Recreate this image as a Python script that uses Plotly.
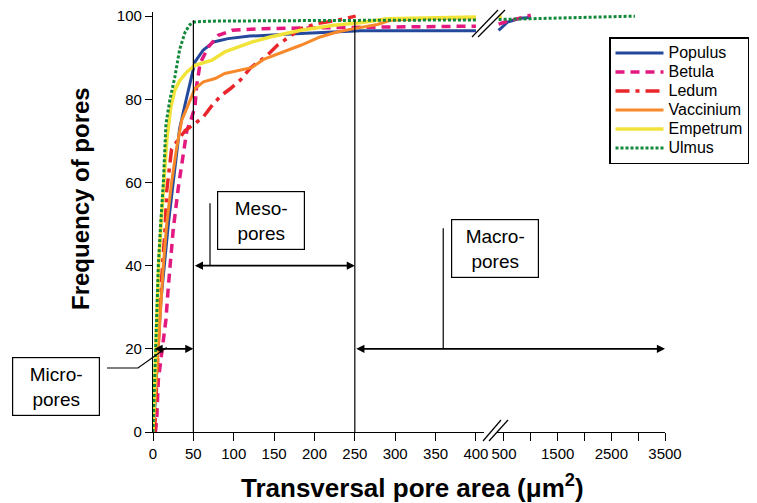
import plotly.graph_objects as go

# ---------------- data ----------------
populus_x = [0, 3, 6, 10, 14, 19, 25, 29, 33, 40, 48, 52, 62, 75, 93, 120, 183, 257, 400]
populus_y = [0, 8, 20, 32, 40, 50, 60, 67, 73, 79, 85.4, 89, 91.8, 93.8, 94.6, 95.2, 95.8, 96.5, 96.5]
populus_tail_x = [400, 570, 800, 1000]
populus_tail_y = [96.6, 98.6, 99.5, 99.7]

betula_x = [3, 4.6, 6.6, 12, 16, 19, 25, 31.5, 37.6, 42, 46, 52, 54, 58.4, 68.7, 81, 98, 135, 245, 400]
betula_y = [0, 3, 12.5, 20, 27, 35, 48.6, 59, 67.2, 72.6, 74.4, 78.2, 83.2, 88.7, 92.6, 95.4, 96.6, 97, 97.3, 97.6]
betula_tail_x = [400, 520, 930, 1000]
betula_tail_y = [98.1, 98.6, 100, 100.2]

ledum_x = [2, 4, 6, 8.5, 10.7, 13, 15, 17, 20, 23, 30, 40, 50, 62.5, 75, 85, 96, 108, 121, 141, 154, 165, 183, 203, 228, 251]
ledum_y = [0, 10, 20, 30, 37, 43, 49, 58, 64, 68, 70, 72.5, 73.9, 75.8, 79, 81, 82.6, 84.6, 87.6, 90.5, 93, 94.5, 97, 98.2, 99, 100]

vaccinium_x = [0, 2, 4, 6.6, 9.5, 12.8, 17, 23, 29, 35.6, 40, 46, 52, 62.5, 77, 89, 106, 122, 137, 160, 183, 207, 228, 249, 278, 294, 330, 400]
vaccinium_y = [0, 6, 14, 20, 30, 40, 50, 60, 68, 75, 77, 79.8, 82.6, 84.2, 85, 86.2, 87, 87.6, 89.6, 91.3, 93, 95, 96.2, 97, 98, 99, 99.4, 99.6]

empetrum_x = [0, 1.5, 3.2, 5.5, 7, 10, 13, 17, 22, 27, 33, 42, 52, 73, 89, 106, 123, 145, 183, 224, 257, 290, 330, 400]
empetrum_y = [0, 10, 20, 30, 40, 50, 60, 70, 78, 82.2, 84.5, 86.6, 88.2, 89.4, 91.4, 92.6, 93.8, 95, 96.6, 97.8, 98.4, 99.4, 99.6, 99.8]
empetrum_tail_x = [400, 460]
empetrum_tail_y = [99.9, 100]

ulmus_x = [0, 1.5, 3, 5, 6.6, 9.5, 12.8, 16, 21, 27, 33, 40, 46, 51, 70, 150, 250, 400]
ulmus_y = [0, 10, 20, 30, 40, 50, 60, 74, 80, 85.3, 92, 96.3, 98, 98.6, 98.8, 98.9, 99, 99.1]
ulmus_tail_x = [400, 1000, 2000, 2940]
ulmus_tail_y = [99.2, 99.4, 99.7, 100]

left_ticks = [0, 50, 100, 150, 200, 250, 300, 350, 400]
right_ticks = [500, 1000, 1500, 2000, 2500, 3000, 3500]
right_ticktext = ["500", "", "1500", "", "2500", "", "3500"]
y_ticks = [0, 20, 40, 60, 80, 100]

# ---------------- geometry ----------------
W, H = 757, 503
L, R, T, B = 153, 665, 12, 432
LEFT_END_PX = 484
RIGHT_START_PX = 497
X1_RANGE = [0, 410]
X2_RANGE = [370, 3500]
Y_RANGE = [0, 101]

d1 = (LEFT_END_PX - L) / (R - L)
d2 = (RIGHT_START_PX - L) / (R - L)


def px_x1(v):
    return L + (v - X1_RANGE[0]) / (X1_RANGE[1] - X1_RANGE[0]) * (LEFT_END_PX - L)


def x2_from_px(p):
    return X2_RANGE[0] + (p - RIGHT_START_PX) / (R - RIGHT_START_PX) * (X2_RANGE[1] - X2_RANGE[0])


def pxp(px):  # pixel -> paper x
    return (px - L) / (R - L)


def pyp(py):  # pixel -> paper y
    return (B - py) / (B - T)


FONT = "Liberation Sans, Arial, sans-serif"

series = [
    ("Populus", populus_x, populus_y, populus_tail_x, populus_tail_y, "#24489c", "solid", 3),
    ("Betula", betula_x, betula_y, betula_tail_x, betula_tail_y, "#e3197f", "9px,6px", 3.5),
    ("Ledum", ledum_x, ledum_y, None, None, "#e8262b", "14px,6px,4px,6px", 3.5),
    ("Vaccinium", vaccinium_x, vaccinium_y, None, None, "#f7892b", "solid", 3),
    ("Empetrum", empetrum_x, empetrum_y, empetrum_tail_x, empetrum_tail_y, "#f2e33a", "solid", 3.5),
    ("Ulmus", ulmus_x, ulmus_y, ulmus_tail_x, ulmus_tail_y, "#12893a", "3px,2px", 3),
]

fig = go.Figure()
for name, xs, ys, tx, ty, col, dash, w in series:
    fig.add_trace(go.Scatter(x=xs, y=ys, mode="lines",
                             name='<span style="font-size:16px">%s</span>' % name,
                             legendgroup=name,
                             line=dict(color=col, dash=dash, width=w), xaxis="x", yaxis="y"))
    if tx is not None:
        fig.add_trace(go.Scatter(x=tx, y=ty, mode="lines", name=name, legendgroup=name,
                                 showlegend=False,
                                 line=dict(color=col, dash=dash, width=w), xaxis="x2", yaxis="y"))

axis_common = dict(showline=True, linecolor="black", linewidth=1.2, ticks="outside",
                   ticklen=8, tickwidth=1.2, tickcolor="black", showgrid=False, zeroline=False,
                   tickfont=dict(family=FONT, size=15, color="black"))

fig.update_layout(
    width=W, height=H,
    margin=dict(l=L, r=W - R, t=T, b=H - B, pad=0, autoexpand=False),
    paper_bgcolor="white", plot_bgcolor="white",
    font=dict(family=FONT, color="black"),
    xaxis=dict(domain=[0, d1], range=X1_RANGE, tickvals=left_ticks, **axis_common),
    xaxis2=dict(domain=[d2, 1], range=X2_RANGE, tickvals=right_ticks, ticktext=right_ticktext,
                anchor="y", **axis_common),
    yaxis=dict(range=Y_RANGE, tickvals=y_ticks, **{**axis_common, "ticklen": 7}),
    legend=dict(x=609 / W, y=1 - 37 / H, xref="container", yref="container",
                xanchor="left", yanchor="top", bordercolor="black", borderwidth=1.5,
                bgcolor="white", font=dict(family=FONT, size=12, color="black"),
                itemwidth=48, tracegroupgap=0),
    showlegend=True,
)

shapes = []
# region boundaries at 50 and 250
for xv in (50, 250):
    shapes.append(dict(type="line", xref="x", yref="y", x0=xv, x1=xv, y0=0, y1=99,
                       line=dict(color="black", width=1.2)))
# leader lines
shapes.append(dict(type="line", xref="x", yref="y", x0=70.6, x1=70.6, y0=40, y1=55,
                   line=dict(color="black", width=1.2)))
shapes.append(dict(type="line", xref="x", yref="y", x0=359.5, x1=359.5, y0=20, y1=49,
                   line=dict(color="black", width=1.2)))
micro_path = "M{:.4f},{:.4f} L{:.4f},{:.4f} L{:.4f},{:.4f}".format(
    pxp(107), pyp(368), pxp(138), pyp(368), pxp(px_x1(17)), pyp(B - 20.3 * (B - T) / 101))
shapes.append(dict(type="path", xref="paper", yref="paper", path=micro_path,
                   line=dict(color="black", width=1.2)))
# axis break marks
for (x0, y0, x1, y1) in [(483, 441, 501, 420), (489, 441, 508, 420),
                         (472, 37, 498, 10), (478, 37, 505, 10)]:
    shapes.append(dict(type="line", xref="paper", yref="paper",
                       x0=pxp(x0), y0=pyp(y0), x1=pxp(x1), y1=pyp(y1),
                       line=dict(color="black", width=1.2)))
fig.update_layout(shapes=shapes)

ann = []
arrow_style = dict(showarrow=True, text="", arrowside="end+start", arrowhead=2, startarrowhead=2,
                   arrowsize=0.9, startarrowsize=0.9, arrowwidth=1.8, arrowcolor="black",
                   standoff=0, startstandoff=0)
ann.append(dict(xref="x", yref="y", axref="x", ayref="y", x=50, y=20, ax=0, ay=20, **arrow_style))
ann.append(dict(xref="x", yref="y", axref="x", ayref="y", x=250, y=40, ax=50, ay=40, **arrow_style))
ann.append(dict(xref="x2", yref="y", axref="x2", ayref="y", x=3500, y=20,
                ax=x2_from_px(px_x1(250)), ay=20, **arrow_style))

box_style = dict(showarrow=False, bordercolor="black", borderwidth=1.2, borderpad=2,
                 bgcolor="white", width=82, height=53, align="center",
                 font=dict(family=FONT, size=19, color="black"),
                 xref="paper", yref="paper", xanchor="center", yanchor="middle")
ann.append(dict(text="Micro-<br>pores", x=pxp(56), y=pyp(386), **box_style))
ann.append(dict(text="Meso-<br>pores", x=pxp(261), y=pyp(220.5), **box_style))
ann.append(dict(text="Macro-<br>pores", x=pxp(495), y=pyp(248), **box_style))

# axis titles
ann.append(dict(text="<b>Frequency of pores</b>", xref="paper", yref="paper",
                x=pxp(80), y=pyp(199), showarrow=False, textangle=-90,
                xanchor="center", yanchor="middle",
                font=dict(family=FONT, size=24, color="black")))
ann.append(dict(text="<b>Transversal pore area (μm<sup>2</sup>)</b>", xref="paper", yref="paper",
                x=pxp(412), y=pyp(486), showarrow=False,
                xanchor="center", yanchor="middle",
                font=dict(family=FONT, size=26, color="black")))
fig.update_layout(annotations=ann)

fig.write_html("out.html")
